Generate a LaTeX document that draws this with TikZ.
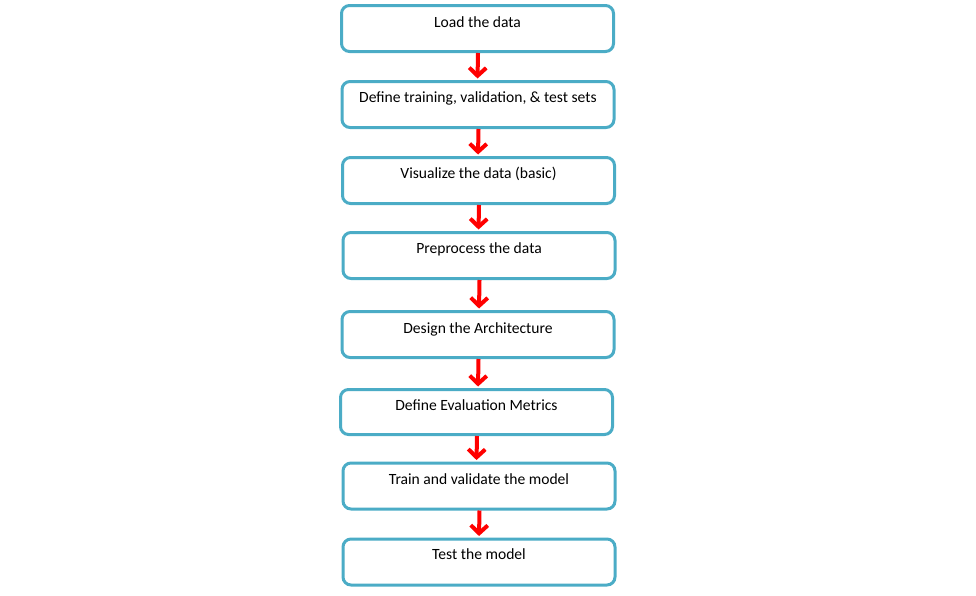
\documentclass[tikz,border=0pt]{standalone}
\usepackage{fontspec}
\setmainfont{Carlito}
\usetikzlibrary{arrows.meta}
\begin{document}
\begin{tikzpicture}[x=1pt,y=-1pt,
  stepbox/.style={draw=boxblue, line width=3pt, rounded corners=8pt, fill=white,
    minimum width=272pt, minimum height=46pt, inner sep=0pt},
  label/.style={anchor=base, font=\fontsize{15.6}{17}\selectfont, text=black, inner sep=0pt},
  arr/.style={draw=arrred, line width=4pt, -{Straight Barb[length=8pt,width=17pt,line width=4pt]}, shorten >=1.5pt}
]
\definecolor{boxblue}{RGB}{75,172,198}
\definecolor{arrred}{RGB}{255,0,0}
\useasboundingbox (0,0) rectangle (976,595);
\node[stepbox] (b1) at (477.5,28.5) {};
\node[stepbox] (b2) at (478,104.5) {};
\node[stepbox] (b3) at (478.5,180.5) {};
\node[stepbox] (b4) at (479,255.5) {};
\node[stepbox] (b5) at (478,334.5) {};
\node[stepbox, minimum height=45pt] (b6) at (476.5,412) {};
\node[stepbox] (b7) at (479,486) {};
\node[stepbox] (b8) at (479,562) {};
\node[label] (t1) at ([yshift=-23pt]b1.north) {Load the data};
\node[label] (t2) at ([yshift=-22.5pt]b2.north) {Define training, validation, \& test sets};
\node[label] (t3) at ([yshift=-22.5pt]b3.north) {Visualize the data (basic)};
\node[label] (t4) at ([yshift=-22.5pt]b4.north) {Preprocess the data};
\node[label] (t5) at ([yshift=-23pt]b5.north) {Design the Architecture};
\node[label] (t6) at ([yshift=-22.5pt]b6.north) {Define Evaluation Metrics};
\node[label] (t7) at ([yshift=-23pt]b7.north) {Train and validate the model};
\node[label] (t8) at ([yshift=-22pt]b8.north) {Test the model};
\foreach \a/\b in {b1/b2,b2/b3,b3/b4,b4/b5,b5/b6,b6/b7,b7/b8}{
  \draw[arr] ([xshift=0.5pt]\a.south) -- (\a.south |- \b.north);
}
\end{tikzpicture}
\end{document}
